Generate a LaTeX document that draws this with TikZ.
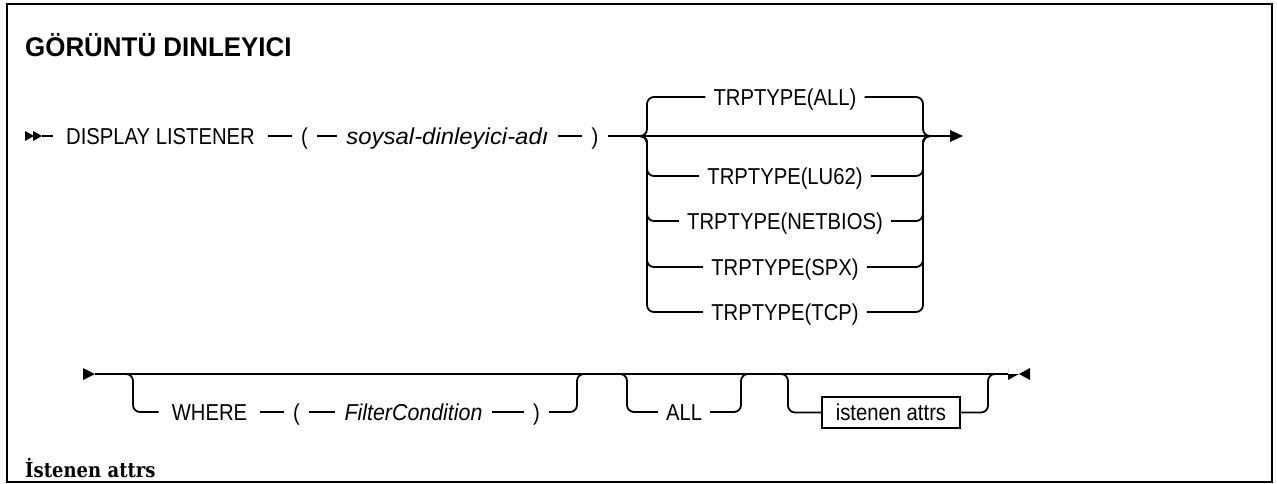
\documentclass[tikz,border=0pt]{standalone}
\usepackage{fontspec}
\setmainfont{Liberation Sans}
\newfontfamily\synfont{Liberation Sans}[FakeStretch=0.88]
\newfontfamily\varfont{Liberation Sans}[FakeStretch=1.04]
\newfontfamily\varfontb{Liberation Sans}[FakeStretch=0.93]
\newfontfamily\headfont{Liberation Sans}[FakeStretch=0.96]
\newfontfamily\subheadfont{DejaVu Serif}[FakeStretch=0.88]
\begin{document}
\begin{tikzpicture}[x=1pt,y=-1pt,
  conn/.style={line width=1.8pt, rounded corners=7pt},
  tok/.style={font=\synfont\fontsize{23}{27}\selectfont, inner xsep=13pt, inner ysep=0pt, text height=16.5pt, text depth=0pt},
  par/.style={tok, inner xsep=9pt},
  opt/.style={tok, inner xsep=8pt},
  var/.style={font=\varfont\itshape\fontsize{23}{27}\selectfont, inner xsep=9pt, inner ysep=0pt, text height=16.5pt, text depth=0pt},
  varb/.style={var, font=\varfontb\itshape\fontsize{23}{27}\selectfont},
  refbox/.style={tok, draw, line width=1.5pt, inner xsep=14pt, inner ysep=7.25pt},
  tipfill/.style={fill=black}
]
\useasboundingbox (0,0) rectangle (1277,484);
\draw[line width=2pt] (7,4) rectangle (1272,482);

% headings
\node[anchor=base west, inner sep=0pt, font=\headfont\bfseries\fontsize{27}{30}\selectfont] (title) at (25,57) {GÖRÜNTÜ DINLEYICI};
\node[anchor=base west, inner sep=0pt, font=\subheadfont\bfseries\fontsize{20.5}{24}\selectfont] (sub) at (25,477) {İstenen attrs};

% ---------- row 1 ----------
\coordinate (s1) at (42,136);
\fill[tipfill] (25,131) -- (34,136) -- (25,141) -- cycle;
\fill[tipfill] (33,131) -- (42,136) -- (33,141) -- cycle;
\node[tok] (dl) at (160.5,136) {DISPLAY LISTENER};
\node[par] (lp1) at (304.5,136) {(};
\node[var] (sd) at (447.5,136) {soysal-dinleyici-adı};
\node[par] (rp1) at (595,136) {)};
\coordinate (jL1) at (640,136);
\coordinate (vL1) at (647,136);
\coordinate (vR1) at (923,136);
\coordinate (jR1) at (930,136);
\coordinate (e1) at (963,136);
\draw[conn] (s1) -- (dl.west);
\draw[conn] (dl.east) -- (lp1.west);
\draw[conn] (lp1.east) -- (sd.west);
\draw[conn] (sd.east) -- (rp1.west);
\draw[conn] (rp1.east) -- (jL1) -- (jR1) -- ([xshift=-12pt]e1);
\fill[tipfill] ([xshift=-13pt,yshift=-6pt]e1) -- (e1) -- ([xshift=-13pt,yshift=6pt]e1) -- cycle;

\node[opt] (a1) at (785,97) {TRPTYPE(ALL)};
\node[opt] (a2) at (785,176) {TRPTYPE(LU62)};
\node[opt] (a3) at (785,221) {TRPTYPE(NETBIOS)};
\node[opt] (a4) at (785,267) {TRPTYPE(SPX)};
\node[opt] (a5) at (785,312) {TRPTYPE(TCP)};
\foreach \n in {a1,a2,a3,a4,a5}{
  \draw[conn] (jL1) -| (vL1 |- \n.west) -- (\n.west);
  \draw[conn] (\n.east) -- (vR1 |- \n.east) |- (jR1);
}

% ---------- row 2 ----------
\coordinate (s2) at (95,374);
\fill[tipfill] (83,368) -- (s2) -- (83,380) -- cycle;
\coordinate (e2) at (1008,374);
\fill[tipfill] (e2) -- (1019,374) -- (1008,380) -- (1008,368) -- cycle;
\fill[tipfill] (1030,368) -- (1019,374) -- (1030,380) -- cycle;
\draw[conn] (s2) -- (e2);

% group 1
\coordinate (g1L) at (125,374);
\coordinate (v1L) at (133,374);
\coordinate (v1R) at (577,374);
\coordinate (g1R) at (585,374);
\node[tok] (wh) at (209.5,412) {WHERE};
\node[par] (lp2) at (296.5,412) {(};
\node[varb] (fc) at (413.5,412) {FilterCondition};
\node[par] (rp2) at (536.5,412) {)};
\draw[conn] (g1L) -| (v1L |- wh.west) -- (wh.west);
\draw[conn] (wh.east) -- (lp2.west);
\draw[conn] (lp2.east) -- (fc.west);
\draw[conn] (fc.east) -- (rp2.west);
\draw[conn] (rp2.east) -- (v1R |- rp2.east) |- (g1R);

% group 2
\coordinate (g2L) at (619,374);
\coordinate (v2L) at (627,374);
\coordinate (v2R) at (741,374);
\coordinate (g2R) at (749,374);
\node[opt] (al) at (684,412) {ALL};
\draw[conn] (g2L) -| (v2L |- al.west) -- (al.west);
\draw[conn] (al.east) -- (v2R |- al.east) |- (g2R);

% group 3
\coordinate (g3L) at (780,374);
\coordinate (v3L) at (788,374);
\coordinate (v3R) at (988,374);
\coordinate (g3R) at (996,374);
\node[refbox] (bx) at (891,412.5) {istenen attrs};
\draw[conn] (g3L) -| (v3L |- bx.west) -- (bx.west);
\draw[conn] (bx.east) -- (v3R |- bx.east) |- (g3R);
\end{tikzpicture}
\end{document}
